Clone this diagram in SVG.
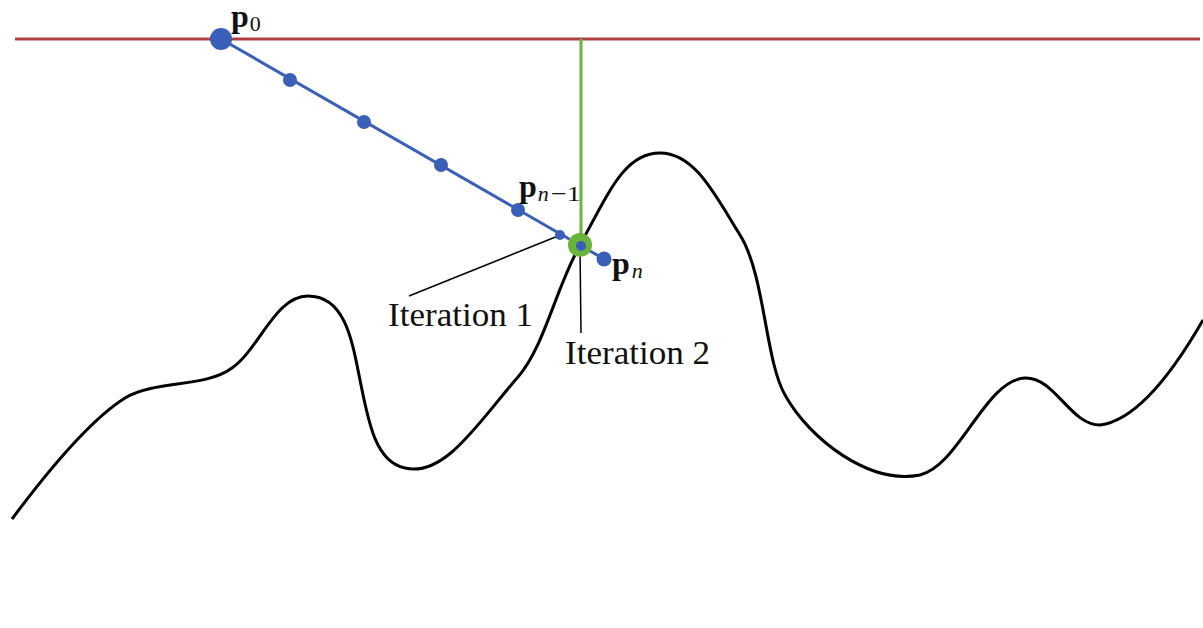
<svg xmlns="http://www.w3.org/2000/svg" width="1203" height="628" viewBox="0 0 1203 628">
<style>
.lbl{font-family:"Liberation Serif","DejaVu Serif",serif;font-size:33px;fill:#111}
.p{font-family:"Liberation Serif","DejaVu Serif",serif;font-weight:bold;font-size:32px;fill:#111}
.sub{font-family:"Liberation Serif","DejaVu Serif",serif;font-size:22px;fill:#111}
.subi{font-family:"Liberation Serif","DejaVu Serif",serif;font-style:italic;font-size:22px;fill:#111}
.dot{fill:#3a5fb8}
</style>
<g id="terrain">
<path d="M 12 519 C 50 468, 90 420, 125 398 C 155 380, 205 388, 232 368 C 260 348, 275 296, 308 296 C 345 296, 352 340, 360 380 C 368 420, 375 462, 405 468 C 445 478, 480 420, 518 377 C 545 345, 555 290, 580 245 C 610 190, 625 153, 660 153 C 695 153, 715 195, 740 235 C 765 275, 765 360, 785 395 C 810 440, 870 485, 920 475 C 960 465, 985 380, 1025 378 C 1055 377, 1070 425, 1100 425 C 1140 420, 1180 360, 1203 320" fill="none" stroke="#000" stroke-width="3"/>
</g>
<g id="connectors">
<line x1="15" y1="39" x2="1200" y2="39" stroke="#b04040" stroke-width="3"/>
<line x1="581" y1="39" x2="581" y2="245" stroke="#6ab43a" stroke-width="3"/>
<line x1="221" y1="39" x2="604" y2="259" stroke="#3a5fb8" stroke-width="3"/>
<line x1="409" y1="296" x2="558" y2="236" stroke="#000" stroke-width="1.5"/>
<line x1="580" y1="248" x2="581" y2="333" stroke="#000" stroke-width="1.5"/>
</g>
<g id="points">
<circle class="dot" cx="221" cy="39" r="11"/>
<circle class="dot" cx="290" cy="80" r="7"/>
<circle class="dot" cx="364" cy="122" r="7"/>
<circle class="dot" cx="441" cy="165" r="7"/>
<circle class="dot" cx="518" cy="210" r="7"/>
<circle class="dot" cx="560" cy="235" r="5"/>
<circle cx="580" cy="245" r="12" fill="#6ab43a"/>
<circle class="dot" cx="581" cy="246" r="5"/>
<circle class="dot" cx="604" cy="259" r="7.5"/>
</g>
<g id="labels">
<text x="231" y="27"><tspan class="p">p</tspan><tspan class="sub" dy="4" dx="1">0</tspan></text>
<text x="519" y="197"><tspan class="p">p</tspan><tspan class="subi" dy="4" dx="1">n</tspan><tspan class="sub" dx="2" textLength="30" lengthAdjust="spacingAndGlyphs">−1</tspan></text>
<text x="612" y="274"><tspan class="p">p</tspan><tspan class="subi" dy="4" dx="2">n</tspan></text>
<text class="lbl" x="388" y="326" textLength="145" lengthAdjust="spacingAndGlyphs">Iteration 1</text>
<text class="lbl" x="565" y="364" textLength="145" lengthAdjust="spacingAndGlyphs">Iteration 2</text>
</g>
</svg>
